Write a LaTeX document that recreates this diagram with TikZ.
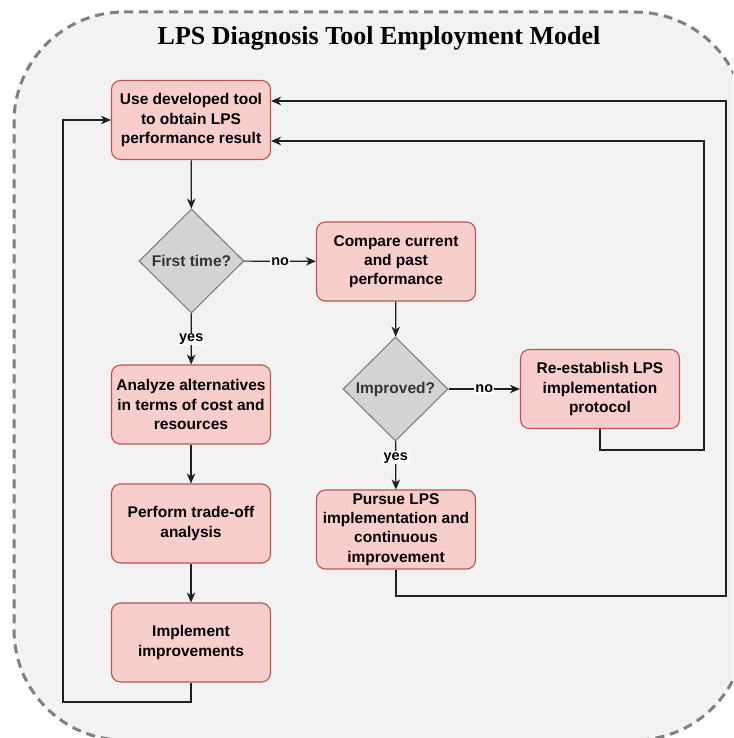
\documentclass[tikz,border=0pt]{standalone}
\usepackage{fontspec}
\setmainfont{Liberation Serif}
\newfontfamily\boxfont{Liberation Sans}
\usetikzlibrary{shapes.geometric,arrows.meta,calc}
\definecolor{boxfill}{HTML}{F8CECC}
\definecolor{boxdraw}{HTML}{B85450}
\definecolor{dfill}{HTML}{D3D3D3}
\definecolor{ddraw}{HTML}{808080}
\definecolor{dtext}{HTML}{333333}
\definecolor{bgc}{HTML}{F2F2F2}
\definecolor{dashc}{HTML}{808080}
\definecolor{linec}{HTML}{1F1F1F}
\tikzset{
  procbox/.style={draw=boxdraw, fill=boxfill, rounded corners=9pt, line width=1.1pt,
    minimum width=159pt, minimum height=79pt, align=center, inner sep=0pt,
    font=\boxfont\bfseries\fontsize{15.5}{19.3}\selectfont},
  decision/.style={diamond, draw=ddraw, fill=dfill, line width=1.1pt,
    minimum width=105pt, minimum height=104pt, inner sep=0pt, text=dtext,
    font=\boxfont\bfseries\fontsize{15.5}{19}\selectfont},
  conn/.style={draw=linec, line width=1.2pt, -{Stealth[length=10pt,width=8.5pt,inset=3pt]}},
  lbl/.style={fill=white, inner sep=1pt, text=black,
    font=\boxfont\bfseries\fontsize{14.5}{16}\selectfont},
  container/.style={draw=dashc, line width=3pt, dash pattern=on 9pt off 6pt,
    fill=bgc},
  titlefont/.style={font=\bfseries\fontsize{26}{30}\selectfont}
}
\begin{document}
\begin{tikzpicture}[x=1pt,y=-1pt]
\useasboundingbox (0,0) rectangle (733,738);
\clip (0,0) rectangle (733,738);
\fill[white] (0,0) rectangle (733,738);
% dashed rounded container, partly beyond the picture edge (y runs downward)
\path[container] (124,12) -- (635,12) arc[start angle=-90, end angle=0, radius=110]
  -- (745,630) arc[start angle=0, end angle=90, radius=110]
  -- (124,740) arc[start angle=90, end angle=180, radius=110]
  -- (14,122) arc[start angle=180, end angle=270, radius=110] -- cycle;
\node[titlefont] (title) at (379,38) {LPS Diagnosis Tool Employment Model};

\node[procbox] (b1) at (191,120) {Use developed tool\\to obtain LPS\\performance result};
\node[decision] (d1) at (191.5,261) {First time?};
\node[procbox] (b2) at (396,261.5) {Compare current\\and past\\performance};
\node[decision] (d2) at (395.5,389) {Improved?};
\node[procbox] (b7) at (600,389) {Re-establish LPS\\implementation\\protocol};
\node[procbox] (b3) at (191,404.5) {Analyze alternatives\\in terms of cost and\\resources};
\node[procbox] (b4) at (191,523.5) {Perform trade-off\\analysis};
\node[procbox] (b5) at (191,642.5) {Implement\\improvements};
\node[procbox] (b6) at (396,529.5) {Pursue LPS\\implementation and\\continuous\\improvement};

\coordinate (l1) at (63,702);
\coordinate (l2) at (63,120);
\coordinate (r1) at (704,450);
\coordinate (r2) at (704,141);
\coordinate (s1) at (726,596);
\coordinate (s2) at (726,101);

\draw[conn] (b1) -- (d1);
\draw[conn] (d1) -- node[lbl] {no} (b2);
\draw[conn] (d1) -- node[lbl] {yes} (b3);
\draw[conn] (b2) -- (d2);
\draw[conn] (d2) -- node[lbl] {no} (b7);
\draw[conn] (d2) -- node[lbl, pos=0.34] {yes} (b6);
\draw[conn] (b3) -- (b4);
\draw[conn] (b4) -- (b5);
\draw[conn] (b5.south) |- (l1) -- (l2) -- (b1.west);
\draw[conn] (b7.south) |- (r1) -- (r2) -- (b1.east |- r2);
\draw[conn] (b6.south) |- (s1) -- (s2) -- (b1.east |- s2);
\end{tikzpicture}
\end{document}
